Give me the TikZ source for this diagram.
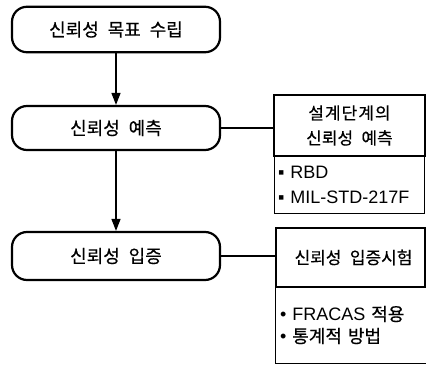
\documentclass[tikz,border=0pt]{standalone}
\usepackage{fontspec}
\setmainfont{Liberation Sans}
\newfontfamily\kr[WordSpace=2.2,FakeBold=0.5]{Noto Sans CJK KR}
\usetikzlibrary{arrows.meta}
\tikzset{
  rbox/.style={draw, line width=2.2pt, rounded corners=15pt, minimum width=208pt, inner sep=0pt, font=\kr\fontsize{18}{20}\selectfont},
  tbox/.style={draw, line width=2pt, inner sep=0pt, align=center, font=\kr\fontsize{17}{25}\selectfont},
  sbox/.style={draw, line width=0.8pt, inner xsep=4pt, inner ysep=0pt, align=left, font=\fontsize{18}{25}\selectfont},
  flow/.style={line width=1.4pt, -{Triangle[width=9pt,length=12pt]}},
  link/.style={line width=2pt},
}
\begin{document}
\begin{tikzpicture}[x=1pt,y=-1pt]
\useasboundingbox (0,0) rectangle (426,369);
\clip (0,0) rectangle (426,369);
\node[rbox, minimum height=45.5pt] (A) at (116,29.5) {신뢰성 목표 수립};
\node[rbox, minimum height=44pt] (B) at (116,128) {신뢰성 예측};
\node[rbox, minimum height=48pt] (C) at (116,256) {신뢰성 입증};
\node[tbox, minimum width=151pt, minimum height=61pt] (R1) at (349.5,125.5) {{\addfontfeature{LetterSpace=6}설계단계의}\\신뢰성 예측};
\node[sbox, text width=142pt, minimum height=57pt] (S1) at (349,184.5) {▪ RBD\\▪ MIL-STD-217F};
\node[tbox, minimum width=149pt, minimum height=59pt] (R2) at (350.5,257.5) {\hspace*{6pt}신뢰성 입증시험};
\node[sbox, text width=146pt, minimum height=76pt, font=\fontsize{18}{22}\selectfont, inner xsep=5pt] (S2) at (353,325) {• FRACAS {\kr 적용}\\• {\kr 통계적 방법}};
\draw[flow] (A.south) -- (B.north);
\draw[flow] (B.south) -- (C.north);
\draw[link] (B.east) -- (B.east -| R1.west);
\draw[link] (C.east) -- (C.east -| R2.west);
\end{tikzpicture}
\end{document}
